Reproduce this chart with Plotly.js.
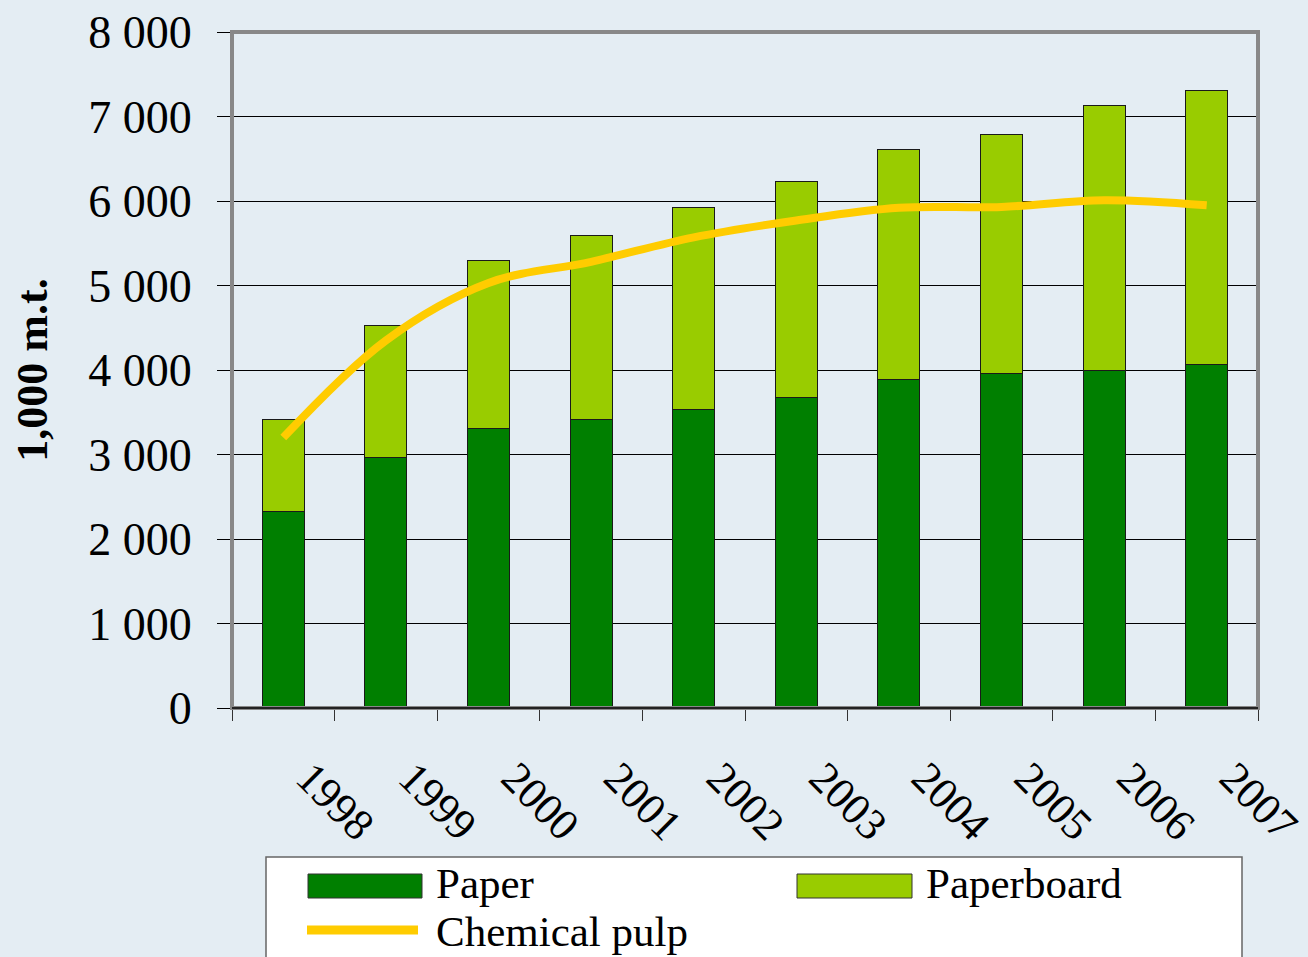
<!DOCTYPE html>
<html><head><meta charset="utf-8">
<script src="https://cdn.plot.ly/plotly-3.0.1.min.js"></script>
<style>html,body{margin:0;padding:0;background:#e4edf3;}</style>
</head><body><div id="chart" style="width:1308px;height:957px;"></div>
<script>
const years = ['1998','1999','2000','2001','2002','2003','2004','2005','2006','2007'];
const paper = [2320,2960,3310,3420,3530,3680,3890,3960,4000,4060];
const paperboard = [1100,1570,1980,2170,2390,2545,2725,2830,3135,3245];
const chemicalPulp = [3200,4350,5030,5280,5570,5770,5920,5930,6010,5950];
const yTickVals = [0,1000,2000,3000,4000,5000,6000,7000,8000];
const yTickText = ['0','1 000','2 000','3 000','4 000','5 000','6 000','7 000','8 000'];

const FONT = 'Liberation Serif, DejaVu Serif, serif';
const traces = [
  {type:'bar', name:'Paper', x:years, y:paper, marker:{color:'#007f00', line:{color:'#1a1a1a', width:1}}},
  {type:'bar', name:'Paperboard', x:years, y:paperboard, marker:{color:'#99cc00', line:{color:'#1a1a1a', width:1}}},
  {type:'scatter', mode:'lines', name:'Chemical pulp', x:years, y:chemicalPulp,
   line:{color:'#ffcc00', width:8, shape:'spline', smoothing:1}}
];

function px(x){return (x-232)/1026;}
function py(y){return (708-y)/676;}

const layout = {
  width:1308, height:957,
  paper_bgcolor:'#e4edf3', plot_bgcolor:'#e4edf3',
  margin:{l:232, r:50, t:32, b:249},
  barmode:'stack', bargap:0.59,
  showlegend:false,
  font:{family:FONT, color:'#000'},
  xaxis:{type:'category', tickson:'boundaries', ticks:'outside', ticklen:12, tickcolor:'#333', tickwidth:1,
         showgrid:false, tickangle:45, tickfont:{size:44, family:FONT}, showline:false,
         ticklabelstandoff:34, ticklabelshift:26},
  yaxis:{range:[0,8000], tickvals:yTickVals, ticktext:yTickText, ticks:'outside', ticklen:14, tickcolor:'#000',
         showgrid:true, gridcolor:'#000', gridwidth:1, zeroline:false, showline:false,
         tickfont:{size:46, family:FONT}, ticklabelstandoff:16,
         title:{text:'<b>1,000 m.t.</b>', font:{size:44, family:FONT}, standoff:26}},
  shapes:[
    {type:'rect', xref:'paper', yref:'paper', x0:0, x1:1, y0:0, y1:1, line:{color:'#888', width:4}},
    {type:'line', xref:'paper', yref:'paper', x0:0, x1:1, y0:0, y1:0, line:{color:'#000', width:1.5}},
    {type:'rect', xref:'paper', yref:'paper', x0:px(266), x1:px(1242), y0:py(857), y1:py(1000),
     fillcolor:'#ffffff', line:{color:'#666', width:1.5}},
    {type:'rect', xref:'paper', yref:'paper', x0:px(308), x1:px(422), y0:py(874), y1:py(898),
     fillcolor:'#007f00', line:{color:'#333', width:1}},
    {type:'rect', xref:'paper', yref:'paper', x0:px(797), x1:px(912), y0:py(874), y1:py(898),
     fillcolor:'#99cc00', line:{color:'#333', width:1}},
    {type:'line', xref:'paper', yref:'paper', x0:px(307), x1:px(418), y0:py(930), y1:py(930),
     line:{color:'#ffcc00', width:9}}
  ],
  annotations:[
    {xref:'paper', yref:'paper', x:px(434), y:py(883), text:'Paper', showarrow:false, xanchor:'left', yanchor:'middle', font:{size:43, family:FONT}},
    {xref:'paper', yref:'paper', x:px(924), y:py(883), text:'Paperboard', showarrow:false, xanchor:'left', yanchor:'middle', font:{size:43, family:FONT}},
    {xref:'paper', yref:'paper', x:px(434), y:py(931), text:'Chemical pulp', showarrow:false, xanchor:'left', yanchor:'middle', font:{size:43, family:FONT}}
  ]
};
Plotly.newPlot('chart', traces, layout, {displayModeBar:false});
</script></body></html>
